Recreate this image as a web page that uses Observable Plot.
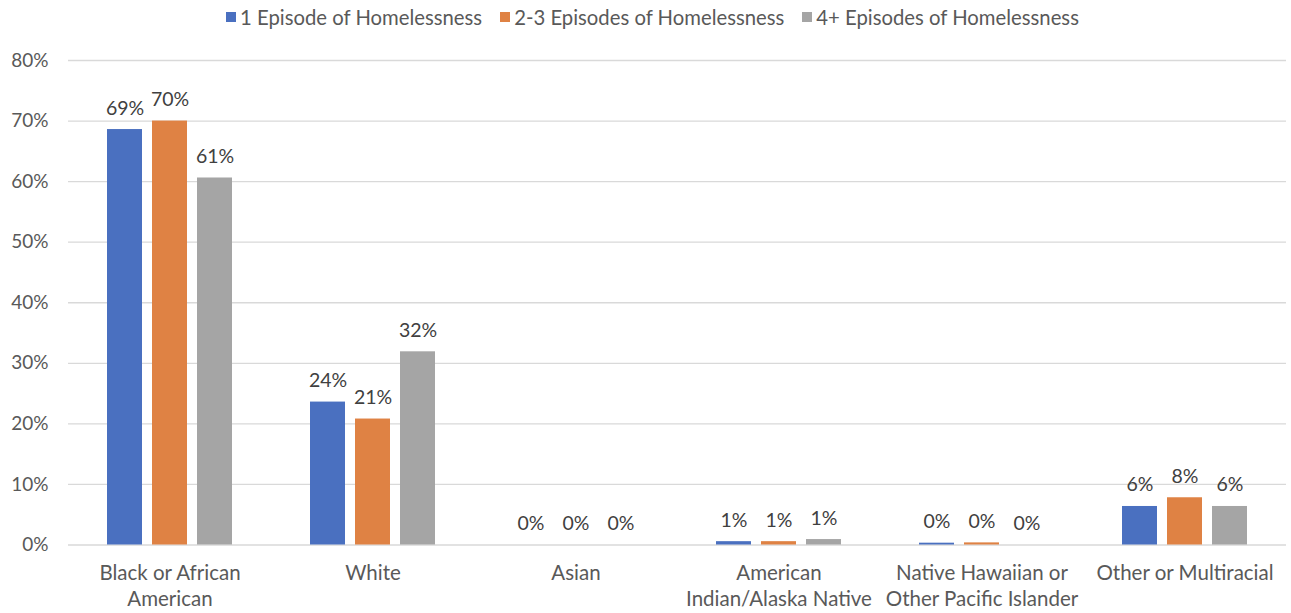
<!DOCTYPE html>
<html>
<head>
<meta charset="utf-8">
<script src="https://cdn.jsdelivr.net/npm/d3@7"></script>
<script src="https://cdn.jsdelivr.net/npm/@observablehq/plot@0.6"></script>
<style>
  html, body { margin: 0; padding: 0; background: #fff; }
  body { width: 1291px; height: 613px; overflow: hidden; font-family: Lato, "Open Sans", sans-serif; }
  #legend { height: 34px; display: flex; justify-content: center; align-items: center; gap: 18px; font-size: 20.3px; color: #595959; padding-left: 14px; }
  #legend .item { display: flex; align-items: center; gap: 4px; }
  #legend .sw { width: 10px; height: 10px; display: inline-block; }
</style>
</head>
<body>
<div id="legend"></div>
<div id="chart"></div>
<script>
const categories = [
  "Black or African\nAmerican",
  "White",
  "Asian",
  "American\nIndian/Alaska Native",
  "Native Hawaiian or\nOther Pacific Islander",
  "Other or Multiracial"
];
const seriesNames = [
  "1 Episode of Homelessness",
  "2-3 Episodes of Homelessness",
  "4+ Episodes of Homelessness"
];
const seriesColors = ["#4A70C0", "#DF8244", "#A5A5A5"];
const oneEpisode   = [0.686, 0.236, 0.0, 0.0055, 0.003, 0.0636];
const twoThree     = [0.700, 0.208, 0.0, 0.0055, 0.0035, 0.078];
const fourPlus     = [0.606, 0.319, 0.0, 0.009, 0.0, 0.0636];
const yTicks = [0, 0.1, 0.2, 0.3, 0.4, 0.5, 0.6, 0.7, 0.8];

const seriesValues = [oneEpisode, twoThree, fourPlus];
const data = [];
categories.forEach((c, i) => {
  seriesNames.forEach((s, j) => {
    data.push({category: c, series: s, value: seriesValues[j][i]});
  });
});

const legend = document.getElementById("legend");
seriesNames.forEach((s, j) => {
  const it = document.createElement("div");
  it.className = "item";
  it.innerHTML = `<span class="sw" style="background:${seriesColors[j]}"></span><span>${s}</span>`;
  legend.appendChild(it);
});

const fmt = d3.format(".0%");
const textColor = "#595959";
const fontFamily = "Lato, 'Open Sans', sans-serif";

const chart = Plot.plot({
  width: 1291,
  height: 579,
  marginLeft: 67,
  marginRight: 4,
  marginTop: 26,
  marginBottom: 68.5,
  style: {fontFamily, fontSize: "19px", color: textColor, background: "#fff"},
  fx: {domain: categories, padding: 0, label: null},
  x: {domain: seriesNames, paddingInner: 0.216, paddingOuter: 0.86, axis: null},
  y: {domain: [0, 0.8], label: null},
  color: {domain: seriesNames, range: seriesColors},
  marks: [
    Plot.ruleY(yTicks, {y: d => d, stroke: "#D9D9D9", strokeWidth: 1.3}),
    Plot.axisY({ticks: yTicks, tickFormat: d => Math.round(d * 100) + "%", tickSize: 0, tickPadding: 20, fontSize: 19, fill: textColor, label: null}),
    Plot.axisFx({anchor: "bottom", tickSize: 0, tickPadding: 17, fontSize: 20.5, lineHeight: 1.25, fill: textColor, label: null, lineAnchor: "top"}),
    Plot.barY(data, {fx: "category", x: "series", y: "value", fill: "series"}),
    Plot.text(data, {fx: "category", x: "series", y: "value", text: d => fmt(d.value), lineAnchor: "bottom", dy: -15, fontSize: 19.5, fill: "#404040"})
  ]
});
document.getElementById("chart").appendChild(chart);
</script>
</body>
</html>
